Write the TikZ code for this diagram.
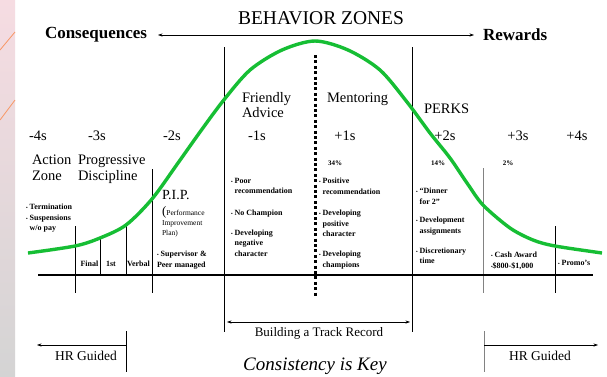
\documentclass[tikz,border=0pt]{standalone}
\usepackage{fontspec}
\setmainfont{LiberationSerif}[Extension=.ttf, UprightFont=*-Regular, BoldFont=*-Bold, ItalicFont=*-Italic, BoldItalicFont=*-BoldItalic]
\usepackage{graphicx}
\usetikzlibrary{arrows.meta}
\definecolor{curvegreen}{RGB}{22,190,52}
\definecolor{peachtop}{RGB}{246,220,226}
\definecolor{peachmid}{RGB}{250,238,222}
\definecolor{peachbot}{RGB}{212,212,212}
\definecolor{stripeorange}{RGB}{248,150,100}
\definecolor{gridgray}{RGB}{130,130,130}
\newcommand{\bl}{{\scalebox{0.6}{\textbullet}}\ }
\newcommand{\bli}{\hphantom{\scalebox{0.6}{\textbullet}\ }}
\tikzset{
  txt/.style={inner sep=0pt, outer sep=0pt},
  bigtxt/.style={txt, font=\fontsize{14.5}{15.5}\selectfont, align=left},
  sigtxt/.style={txt, font=\fontsize{14.5}{15}\selectfont},
  smalltxt/.style={txt, font=\fontsize{8}{10.5}\selectfont\bfseries, align=left},
  pcttxt/.style={txt, font=\fontsize{7}{8}\selectfont\bfseries},
  vline/.style={line width=0.7pt},
  gline/.style={line width=0.9pt, gridgray},
  thinarrow/.style={line width=0.6pt},
  tip/.tip={Stealth[length=4.5pt,width=3.2pt]}
}
\begin{document}
\begin{tikzpicture}[x=1pt,y=-1pt]
\useasboundingbox (0,0) rectangle (607,376);
\fill[white] (0,0) rectangle (607,376);
% left decorative strip
\shade[top color=peachtop, middle color=peachmid, bottom color=peachbot] (0,0) rectangle (15,376);
\draw[stripeorange, line width=0.8pt] (0,50) -- (15,32);
\draw[stripeorange, line width=0.8pt] (0,120) -- (15,100);

% title and header
\node[txt, font=\fontsize{19.5}{22}\selectfont] (title) at (321,18) {BEHAVIOR ZONES};
\node[txt, font=\fontsize{17}{19}\selectfont\bfseries, anchor=west] (cons) at (45,35) {Consequences};
\node[txt, font=\fontsize{17}{19}\selectfont\bfseries, anchor=west] (rew) at (483,35) {Rewards};
\coordinate (hL) at (158,35);
\coordinate (hR) at (474,35);
\draw[thinarrow, {tip}-{tip}] (hL) -- (hR);

% vertical lines
\draw[vline] (75,226) -- (75,293);
\draw[vline] (100,238) -- (100,275);
\draw[vline] (126,224) -- (126,275);
\draw[vline] (152,169) -- (152,293);
\draw[vline] (224,47) -- (224,332);
\draw[vline] (412,47) -- (412,332);
\draw[gline] (483,168) -- (483,293);
\draw[vline] (555,226) -- (555,293);
\draw[line width=3pt, dash pattern=on 3pt off 2.4pt] (315,55) -- (315,296);

% baseline
\draw[line width=2.6pt] (38,275) -- (593,275);

% bell curve
\draw[curvegreen, line width=3.4pt, line join=round] plot[smooth, tension=0.5] coordinates {
 (28,253) (75,246) (100,238) (126,225) (152,199) (178,163) (200,132) (223,101)
 (250,70) (282,50) (315,41) (348,50) (380,70) (407,102) (430,133) (450,158)
 (467,183) (483,205) (510,228) (533,240) (555,246) (602,253)};

% sigma headings
\node[sigtxt] (m4) at (38,136) {-4s};
\node[sigtxt] (m3) at (97,136) {-3s};
\node[sigtxt] (m2) at (172,136) {-2s};
\node[sigtxt] (m1) at (257,136) {-1s};
\node[sigtxt] (p1) at (345,136) {+1s};
\node[sigtxt] (p2) at (445,136) {+2s};
\node[sigtxt] (p3) at (518,136) {+3s};
\node[sigtxt] (p4) at (577,136) {+4s};

% percentages
\node[pcttxt] (pc34) at (335,163) {34\%};
\node[pcttxt] (pc14) at (438,163) {14\%};
\node[pcttxt] (pc2) at (508,163) {2\%};

% zone titles
\node[bigtxt, anchor=north west] (action) at (32,155) {Action\\Zone};
\node[bigtxt, anchor=north west] (prog) at (78,155) {Progressive\\Discipline};
\node[bigtxt, anchor=north west] (friendly) at (242,92) {Friendly\\Advice};
\node[bigtxt, anchor=north west] (mentor) at (327,93) {Mentoring};
\node[bigtxt, anchor=north west] (perks) at (424,104) {PERKS};

% PIP
\node[txt, font=\fontsize{14}{15}\selectfont, anchor=north west] (pip) at (162,190) {P.I.P.};
\node[txt, font=\fontsize{7.5}{10}\selectfont, align=left, anchor=north west] (pipdesc) at (162,206)
  {{\fontsize{13}{13}\selectfont(}Performance\\Improvement\\Plan)};

% bullet columns
\node[smalltxt, anchor=north west] (term) at (26,204) {\bl Termination\\\bl Suspensions\\\bli w/o pay};
\node[smalltxt, anchor=north west] (sup) at (157,251) {\bl Supervisor \&\\Peer managed};
\node[smalltxt, anchor=north west] (minus1) at (231,178)
  {\bl Poor\\\bli recommendation\\[11pt]\bl No Champion\\[9.5pt]\bl Developing\\\bli negative\\\bli character};
\node[smalltxt, anchor=north west] (plus1) at (319,178)
  {\bl Positive\\\bli recommendation\\[11pt]\bl Developing\\\bli positive\\\bli character\\[9.5pt]\bl Developing\\\bli champions};
\node[smalltxt, anchor=north west] (plus2) at (416,188)
  {\bl ``Dinner\\\bli for 2''\\[8pt]\bl Development\\\bli assignments\\[9.5pt]\bl Discretionary\\\bli time};
\node[smalltxt, anchor=north west] (cash) at (491,252) {\bl Cash Award\\{\scalebox{0.6}{\textbullet}}\$800-\$1,000};
\node[smalltxt, anchor=west] (promo) at (558,263) {\bl Promo's};

% progressive discipline steps
\node[smalltxt] (final) at (89.5,264) {Final};
\node[smalltxt] (first) at (111,264) {1st};
\node[smalltxt] (verbal) at (138.5,264) {Verbal};

% bottom annotations
\coordinate (bL) at (227,322);
\coordinate (bR) at (410,322);
\draw[thinarrow, {tip}-{tip}] (bL) -- (bR);
\node[txt, font=\fontsize{13}{15}\selectfont] (track) at (319,333) {Building a Track Record};

\draw[vline] (126,331) -- (126,372);
\coordinate (hrLs) at (126,345);
\coordinate (hrLe) at (37,345);
\draw[thinarrow, -{tip}] (hrLs) -- (hrLe);
\node[txt, font=\fontsize{13.5}{15}\selectfont] (hrL) at (86,356) {HR Guided};

\draw[gline] (484,331) -- (484,372);
\coordinate (hrRs) at (484,345);
\coordinate (hrRe) at (598,345);
\draw[thinarrow, -{tip}] (hrRs) -- (hrRe);
\node[txt, font=\fontsize{13.5}{15}\selectfont] (hrR) at (540,356) {HR Guided};

\node[txt, font=\fontsize{19}{21}\selectfont\itshape] (key) at (315,366) {Consistency is Key};
\end{tikzpicture}
\end{document}
